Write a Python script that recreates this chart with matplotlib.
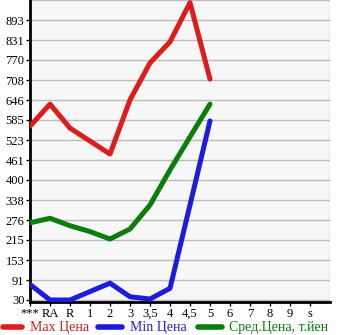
import matplotlib
matplotlib.use("Agg")
import matplotlib.pyplot as plt
from matplotlib.lines import Line2D

categories = ["***", "RA", "R", "1", "2", "3", "3,5", "4", "4,5", "5", "6", "7", "8", "9", "s"]
max_price = [566, 634, 560, 520, 480, 647, 761, 826, 947, 711]
min_price = [78, 30, 30, 56, 82, 40, 33, 66, 323, 582]
avg_price = [268, 282, 259, 241, 218, 249, 323, 431, 533, 634]
yticks = [30, 91, 153, 215, 276, 338, 400, 461, 523, 585, 646, 708, 770, 831, 893]
legend_labels = ["Max Цена", "Min Цена", "Сред.Цена, т.йен"]

W, H = 345, 335
fig = plt.figure(figsize=(W / 100, H / 100), dpi=100)
ax = fig.add_axes([30 / W, 33 / H, 300 / W, 302 / H])
ax.set_facecolor("#f7f7f7")

x = list(range(len(categories)))
red, blue, green = "#dd1c1c", "#1c1cdd", "#0a7d0a"
ax.plot(x[:len(max_price)], max_price, color=red, lw=3.6, solid_capstyle="round", zorder=3)
ax.plot(x[:len(min_price)], min_price, color=blue, lw=3.6, solid_capstyle="round", zorder=3)
ax.plot(x[:len(avg_price)], avg_price, color=green, lw=3.6, solid_capstyle="round", zorder=3)

ax.set_xlim(0, len(categories))
ax.set_ylim(30 - 2 * 925 / 300, 955)
ax.set_xticks(x)
ax.set_xticklabels(categories)
ax.set_yticks(yticks)
ax.set_yticklabels([str(v) for v in yticks])

ax.set_xticks(list(range(len(categories) + 1)), minor=True)
ax.grid(True, which="minor", axis="x", color="#bbbbbb", lw=1)
ax.grid(True, which="major", axis="y", color="#bbbbbb", lw=1)
ax.axhline(955, color="#bbbbbb", lw=1)
ax.tick_params(axis="x", which="minor", length=0)
ax.set_axisbelow(True)

for s in ["top", "right"]:
    ax.spines[s].set_visible(False)
ax.spines["left"].set_linewidth(2)
ax.spines["bottom"].set_linewidth(2)
ax.tick_params(axis="both", which="major", labelsize=9, length=3, width=1, pad=1, color="black")
for lab in ax.get_xticklabels() + ax.get_yticklabels():
    lab.set_fontfamily("Liberation Serif")

# legend
ly = 1 - 327 / H
items = [(3, 22, 30, red, "#cc2222"), (98, 122, 130, blue, "#2222cc"), (198, 222, 229, green, "#0a7d0a")]
for (x0, x1, tx, lc, tc), lab in zip(items, legend_labels):
    fig.add_artist(Line2D([x0 / W, x1 / W], [ly, ly], color=lc, lw=4, solid_capstyle="round", transform=fig.transFigure))
    fig.text(tx / W, ly, lab, color=tc, fontsize=10, fontfamily="Liberation Serif", va="center", ha="left")

fig.savefig("out.png", dpi=100)
